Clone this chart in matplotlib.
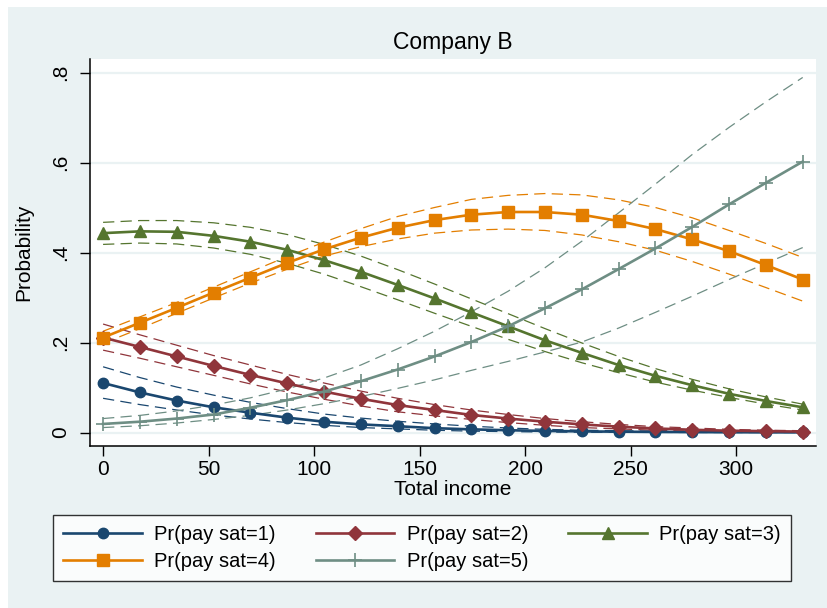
import matplotlib
matplotlib.use("Agg")
import matplotlib.pyplot as plt
from matplotlib.patches import Rectangle

plt.rcParams['font.family'] = ['Liberation Sans', 'DejaVu Sans']

# predicted probabilities by total income
income = [0, 17.5, 34.9, 52.4, 69.8, 87.3, 104.7, 122.2, 139.6, 157.1,
          174.5, 192.0, 209.4, 226.9, 244.3, 261.8, 279.3, 296.7, 314.2, 331.6]

p1 = [.110, .089, .071, .056, .044, .033, .024, .018, .014, .0096,
      .007, .005, .0035, .0025, .0018, .0013, .0009, .0006, .0004, .0003]
p1_hi = [.146, .122, .101, .083, .067, .053, .041, .032, .025, .019,
         .014, .010, .007, .005, .004, .003, .002, .0015, .001, .001]
p1_lo = [.076, .062, .050, .039, .030, .022, .016, .011, .008, .005,
         .003, .002, .001, .0007, .0004, .0002, .0001, 0, 0, 0]

p2 = [.211, .190, .169, .148, .128, .109, .091, .075, .061, .050,
      .039, .031, .024, .018, .013, .009, .006, .004, .003, .002]
p2_hi = [.241, .217, .194, .171, .150, .129, .110, .092, .076, .062,
         .050, .040, .031, .024, .018, .013, .010, .007, .005, .004]
p2_lo = [.183, .165, .146, .127, .108, .090, .074, .059, .046, .037,
         .029, .022, .016, .011, .008, .005, .003, .002, .001, .001]

p3 = [.443, .447, .446, .437, .424, .406, .383, .357, .328, .298,
      .267, .236, .205, .177, .150, .126, .105, .086, .070, .056]
p3_hi = [.467, .471, .471, .466, .456, .440, .418, .392, .362, .330,
         .297, .264, .231, .199, .169, .142, .118, .097, .079, .063]
p3_lo = [.418, .421, .419, .410, .396, .376, .352, .324, .295, .265,
         .236, .207, .180, .155, .133, .112, .094, .078, .063, .050]

p4 = [.211, .244, .277, .311, .344, .377, .407, .433, .455, .472,
      .484, .490, .490, .484, .470, .452, .429, .403, .372, .340]
p4_hi = [.225, .257, .289, .323, .357, .391, .423, .453, .480, .500,
         .518, .527, .531, .528, .517, .500, .477, .449, .420, .389]
p4_lo = [.198, .231, .265, .299, .332, .363, .392, .413, .430, .443,
         .450, .452, .449, .439, .424, .405, .380, .352, .322, .292]

p5 = [.019, .024, .031, .040, .055, .072, .091, .114, .140, .169,
      .201, .236, .276, .318, .363, .409, .457, .507, .555, .602]
p5_hi = [.031, .038, .048, .061, .077, .097, .121, .150, .186, .225,
         .268, .314, .366, .425, .488, .552, .618, .678, .735, .789]
p5_lo = [.011, .015, .021, .029, .038, .050, .064, .080, .098, .117,
         .138, .158, .179, .201, .232, .267, .303, .340, .376, .411]

labels = ['Pr(pay sat=1)', 'Pr(pay sat=2)', 'Pr(pay sat=3)',
          'Pr(pay sat=4)', 'Pr(pay sat=5)']
colors = ['#1a476f', '#90353b', '#55752f', '#e37e00', '#6e8e84']
markers = ['o', 'D', '^', 's', '+']
msizes = [7.5, 7.5, 8.5, 8, 10]

series = [(p1, p1_lo, p1_hi), (p2, p2_lo, p2_hi), (p3, p3_lo, p3_hi),
          (p4, p4_lo, p4_hi), (p5, p5_lo, p5_hi)]

fig = plt.figure(figsize=(8.27, 6.08), dpi=100, facecolor='white')
fig.patches.append(Rectangle((8 / 827, 0), 1, 601 / 608, transform=fig.transFigure,
                             facecolor='#eaf2f3', edgecolor='none', zorder=-10))

ax = fig.add_axes([90 / 827, 162 / 608, 726 / 827, 387 / 608])
ax.set_facecolor('white')

# confidence bands first, then the fitted curves
for (mid, lo, hi), c in zip(series, colors):
    for band in (lo, hi):
        ax.plot(income, band, color=c, lw=0.9, dashes=(9, 5), zorder=2)

handles = []
for (mid, lo, hi), c, m, ms, lab in zip(series, colors, markers, msizes, labels):
    mew = 1.2 if m == '+' else 1
    h, = ax.plot(income, mid, color=c, lw=1.9, marker=m, markersize=ms,
                 markeredgecolor=c, markeredgewidth=mew, label=lab, zorder=3)
    handles.append(h)

ax.set_xlim(-6.2, 337.9)
ax.set_ylim(-0.030, 0.830)
ax.set_xticks([0, 50, 100, 150, 200, 250, 300])
ax.set_yticks([0, 0.2, 0.4, 0.6, 0.8])
ax.set_yticklabels(['0', '.2', '.4', '.6', '.8'])
ax.yaxis.grid(True, color='#eaf2f3', lw=1.6, zorder=0)
ax.set_axisbelow(True)

for s in ('top', 'right'):
    ax.spines[s].set_visible(False)
for s in ('left', 'bottom'):
    ax.spines[s].set_linewidth(1.1)
    ax.spines[s].set_color('black')

ax.tick_params(axis='both', labelsize=15, length=7, width=1, color='black')
ax.tick_params(axis='x', pad=3)
ax.tick_params(axis='y', pad=7, labelrotation=90)
for t in ax.get_yticklabels():
    t.set_va('center')

ax.set_title('Company B', fontsize=16.5, pad=7)
ax.set_xlabel('Total income', fontsize=15)
ax.set_ylabel('Probability', fontsize=15)
ax.xaxis.set_label_coords(0.5, -0.088)
ax.yaxis.set_label_coords(-0.078, 0.5)

# legend fills column by column, so order entries to read row by row
order = [0, 3, 1, 4, 2]
leg = fig.legend(handles=[handles[i] for i in order], loc='center',
                 bbox_to_anchor=(422 / 827, 1 - 548 / 608),
                 ncol=3, fontsize=14.5, frameon=True, fancybox=False,
                 handlelength=3.9, handletextpad=0.6, columnspacing=2.0,
                 labelspacing=0.4, borderpad=0.5)
leg.get_frame().set_edgecolor('black')
leg.get_frame().set_linewidth(1.0)

fig.savefig('out.png', dpi=100, facecolor=fig.get_facecolor())
